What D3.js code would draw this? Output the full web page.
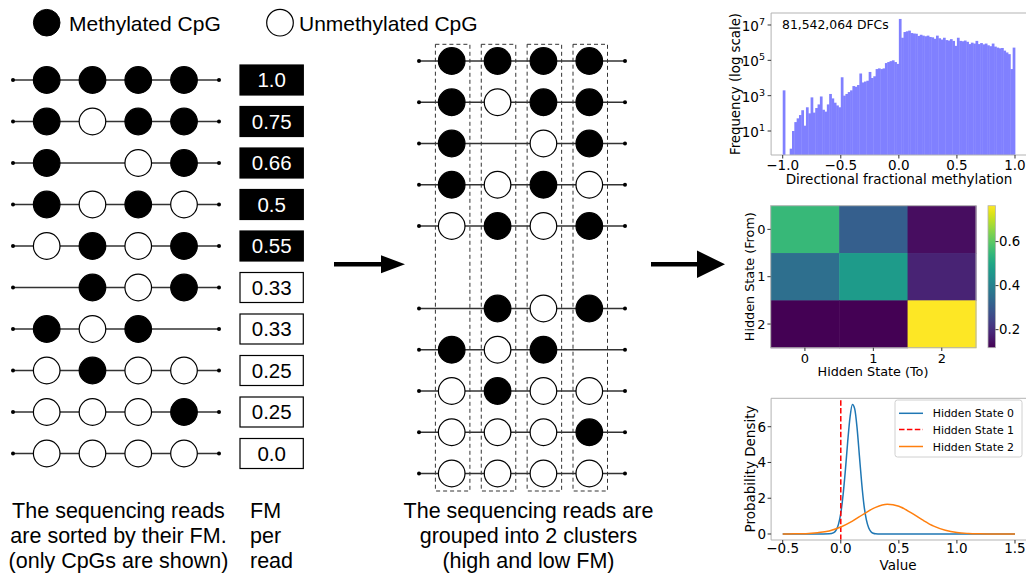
<!DOCTYPE html>
<html><head><meta charset="utf-8">
<script src="https://cdn.jsdelivr.net/npm/d3@7"></script>
<style>body{margin:0;background:#fff}svg{display:block}</style>
</head><body>
<svg id="c" width="1026" height="573"></svg>
<script>
// ---------------- data ----------------
const readsPattern = [
  [1,1,1,1],[1,0,1,1],[1,null,0,1],[1,0,1,0],[0,1,0,1],
  [null,1,0,1],[1,0,1,null],[0,1,0,0],[0,0,0,1],[0,0,0,0]
];
const fmLabels = ["1.0","0.75","0.66","0.5","0.55","0.33","0.33","0.25","0.25","0.0"];
const fmHigh = [true,true,true,true,true,false,false,false,false,false];
const clusterSlots = [0,1,2,3,4,6,7,8,9,10];
const leftCaption = ["The sequencing reads","are sorted by their FM.","(only CpGs are shown)"];
const fmCaption = ["FM","per","read"];
const midCaption = ["The sequencing reads are","grouped into 2 clusters","(high and low FM)"];
const legendLabels = ["Methylated CpG","Unmethylated CpG"];

const histBinStart = -1, histBinWidth = 0.02;
const histCounts = [
  2000,0,0,1,10,32,52,80,150,20,
  220,100,800,110,200,320,900,160,125,320,
  1250,700,400,280,220,11000,1000,1250,1600,2000,
  3500,3200,4000,18000,5600,6300,7000,22000,10000,12500,
  32000,35000,32000,35000,70000,80000,90000,100000,80000,63000,
  22000000,1900000,4000000,4400000,4800000,3500000,3300000,3200000,2400000,2800000,
  2500000,2300000,2500000,2100000,2000000,1660000,2500000,1780000,1500000,1900000,
  1400000,1320000,1580000,1260000,660000,1900000,1260000,1200000,1320000,1120000,
  830000,1000000,890000,1260000,830000,950000,800000,890000,710000,630000,
  890000,600000,525000,480000,500000,355000,280000,224000,32000,525000
];
const histXTicks = [-1,-0.5,0,0.5,1];
const histYTickExp = [1,3,5,7];
const histNote = "81,542,064 DFCs";

const transStates = ["0","1","2"];
const transMatrix = [[0.55,0.31,0.14],[0.35,0.47,0.18],[0.118,0.119,0.763]];
const cbTicks = [0.2,0.4,0.6];

const densX0 = [-0.5,-0.4,-0.3,-0.2,-0.1,-0.06,-0.04,-0.02,0,0.02,0.04,0.06,0.08,0.1,0.12,0.14,0.16,0.18,0.2,0.22,0.24,0.26,0.28,0.3,0.34,0.4,0.6,0.8,1.0,1.2,1.5];
const densY0 = [0,0,0,0,0.01,0.08,0.22,0.54,1.15,2.2,3.6,5.2,6.55,7.25,7.0,5.95,4.4,2.85,1.6,0.8,0.35,0.13,0.04,0.01,0,0,0,0,0,0,0];
const densX2 = [-0.5,-0.4,-0.3,-0.2,-0.1,0,0.1,0.2,0.3,0.4,0.5,0.6,0.7,0.8,0.9,1.0,1.1,1.2,1.3,1.4,1.5];
const densY2 = [0,0.01,0.02,0.07,0.17,0.39,0.72,1.13,1.49,1.66,1.55,1.21,0.8,0.44,0.21,0.08,0.03,0.01,0,0,0];
const hidden1X = 0.0;
const densXTicks = [-0.5,0,0.5,1,1.5];
const densYTicks = [0,2,4,6];
const densLegend = ["Hidden State 0","Hidden State 1","Hidden State 2"];
const densColors = ["#1f77b4","#ff0000","#ff7f0e"];

// ---------------- drawing ----------------
const svg = d3.select("#c");
svg.append("rect").attr("width",1026).attr("height",573).attr("fill","#fff");
const SANS = "'Liberation Sans', Arial, sans-serif";
const MPL = "'DejaVu Sans', sans-serif";
const SPINE = "#b3b3b3";

// legend
const lg = svg.append("g").attr("font-family",SANS).attr("font-size",21);
lg.append("circle").attr("cx",46.7).attr("cy",22.7).attr("r",13.3).attr("fill","#000").attr("stroke","#000");
lg.append("text").attr("x",69).attr("y",30.5).text(legendLabels[0]);
lg.append("circle").attr("cx",280).attr("cy",22.7).attr("r",13.3).attr("fill","#fff").attr("stroke","#000").attr("stroke-width",1.2);
lg.append("text").attr("x",299).attr("y",30.5).text(legendLabels[1]);

function drawRead(g, y, pattern, colX, x0, x1){
  g.append("line").attr("x1",x0).attr("x2",x1).attr("y1",y).attr("y2",y)
    .attr("stroke","#333").attr("stroke-width",1.3);
  [x0,x1].forEach(x=>g.append("circle").attr("cx",x).attr("cy",y).attr("r",2).attr("fill","#000"));
  pattern.forEach((p,j)=>{
    if(p===null) return;
    g.append("circle").attr("cx",colX(j)).attr("cy",y).attr("r",13.3)
      .attr("fill",p?"#000":"#fff").attr("stroke","#000").attr("stroke-width",1.2);
  });
}

// left reads
const colL = d3.scaleLinear().domain([0,3]).range([46.7,184]);
const rowL = d3.scaleLinear().domain([0,readsPattern.length-1]).range([80,453.5]);
const gl = svg.append("g");
readsPattern.forEach((p,i)=>drawRead(gl,rowL(i),p,colL,13,219));
// FM boxes
readsPattern.forEach((p,i)=>{
  const y=rowL(i);
  gl.append("rect").attr("x",240).attr("y",y-15).attr("width",63.3).attr("height",30)
    .attr("fill",fmHigh[i]?"#000":"#fff").attr("stroke","#000").attr("stroke-width",1.2);
  gl.append("text").attr("x",271.7).attr("y",y+7.4).attr("text-anchor","middle")
    .attr("font-family",SANS).attr("font-size",20.5).attr("fill",fmHigh[i]?"#fff":"#000").text(fmLabels[i]);
});
// captions
const capY=[518,543,568];
leftCaption.forEach((t,i)=>svg.append("text").attr("x",118.5).attr("y",capY[i]).attr("text-anchor","middle")
  .attr("font-family",SANS).attr("font-size",21.5).text(t));
fmCaption.forEach((t,i)=>svg.append("text").attr("x",250).attr("y",capY[i])
  .attr("font-family",SANS).attr("font-size",21.5).text(t));
midCaption.forEach((t,i)=>svg.append("text").attr("x",528.5).attr("y",capY[i]).attr("text-anchor","middle")
  .attr("font-family",SANS).attr("font-size",21.5).text(t));

// middle reads
const colM = d3.scaleLinear().domain([0,3]).range([451.7,589.3]);
const rowM = d3.scaleLinear().domain([0,10]).range([61,473.5]);
const gm = svg.append("g");
readsPattern.forEach((p,i)=>drawRead(gm,rowM(clusterSlots[i]),p,colM,419,625));
[0,1,2,3].forEach(j=>{
  gm.append("rect").attr("x",colM(j)-16.3).attr("y",44.3).attr("width",34.5).attr("height",446.7)
    .attr("fill","none").attr("stroke","#333").attr("stroke-width",1).attr("stroke-dasharray","4,3");
});

// arrows
svg.append("path").attr("d","M334,262 L381,262 L381,255.3 L405,264.3 L381,273.3 L381,266.6 L334,266.6 Z").attr("fill","#000");
svg.append("path").attr("d","M651,262 L697,262 L697,250.5 L725,264.3 L697,278 L697,266.6 L651,266.6 Z").attr("fill","#000");

// ---------- histogram ----------
const hx = d3.scaleLinear().domain([-1.1,1.1]).range([771.1,1026.6]);
const hy = d3.scaleLog().domain([Math.pow(10,-0.358),Math.pow(10,7.679)]).range([155,13]);
const gh = svg.append("g");
histCounts.forEach((c,i)=>{
  if(c<=0) return;
  const a=histBinStart+i*histBinWidth, b=a+histBinWidth;
  gh.append("rect").attr("x",hx(a)).attr("width",hx(b)-hx(a)+0.4)
    .attr("y",hy(c)).attr("height",155-hy(c)).attr("fill","#8080ff");
});
// spines
gh.append("line").attr("x1",771.1).attr("x2",1026).attr("y1",155).attr("y2",155).attr("stroke",SPINE);
gh.append("line").attr("x1",771.1).attr("x2",1026).attr("y1",13).attr("y2",13).attr("stroke",SPINE);
gh.append("line").attr("x1",771.1).attr("x2",771.1).attr("y1",13).attr("y2",155).attr("stroke",SPINE);
histXTicks.forEach(t=>{
  gh.append("line").attr("x1",hx(t)).attr("x2",hx(t)).attr("y1",155).attr("y2",158.5).attr("stroke","#333");
  gh.append("text").attr("x",hx(t)).attr("y",170).attr("text-anchor","middle").attr("font-family",MPL)
    .attr("font-size",13.5).text(d3.format(".1f")(t).replace("-","\u2212"));
});
histYTickExp.forEach(e=>{
  const y=hy(Math.pow(10,e));
  gh.append("line").attr("x1",767.6).attr("x2",771.1).attr("y1",y).attr("y2",y).attr("stroke","#333");
  const t=gh.append("text").attr("x",765).attr("y",y+6).attr("text-anchor","end").attr("font-family",MPL).attr("font-size",13.5);
  t.append("tspan").text("10");
  t.append("tspan").attr("dy",-6).attr("font-size",9.5).text(String(e));
});
gh.append("text").attr("transform","translate(740,84) rotate(-90)").attr("text-anchor","middle")
  .attr("font-family",MPL).attr("font-size",13.3).text("Frequency (log scale)");
gh.append("text").attr("x",899).attr("y",184).attr("text-anchor","middle")
  .attr("font-family",MPL).attr("font-size",13.5).text("Directional fractional methylation");
gh.append("text").attr("x",782).attr("y",28.5).attr("font-family",MPL).attr("font-size",12.4).text(histNote);

// ---------- heatmap ----------
const bx = d3.scaleBand().domain(transStates).range([770.7,976]);
const by = d3.scaleBand().domain(transStates).range([205.7,347.7]);
const ext = d3.extent(transMatrix.flat());
const col = d3.scaleSequential(d3.interpolateViridis).domain(ext);
const gt = svg.append("g");
transMatrix.forEach((row,i)=>row.forEach((v,j)=>{
  gt.append("rect").attr("x",bx(transStates[j])).attr("y",by(transStates[i]))
    .attr("width",bx.bandwidth()+0.5).attr("height",by.bandwidth()+0.5).attr("fill",col(v));
}));
gt.append("rect").attr("x",770.7).attr("y",205.7).attr("width",205.3).attr("height",142).attr("fill","none").attr("stroke",SPINE);
transStates.forEach(s=>{
  const xc=bx(s)+bx.bandwidth()/2, yc=by(s)+by.bandwidth()/2;
  gt.append("line").attr("x1",xc).attr("x2",xc).attr("y1",347.7).attr("y2",351).attr("stroke","#333");
  gt.append("text").attr("x",xc).attr("y",363).attr("text-anchor","middle").attr("font-family",MPL).attr("font-size",13).text(s);
  gt.append("line").attr("x1",767.4).attr("x2",770.7).attr("y1",yc).attr("y2",yc).attr("stroke","#333");
  gt.append("text").attr("x",765.5).attr("y",yc+4.7).attr("text-anchor","end").attr("font-family",MPL).attr("font-size",13).text(s);
});
gt.append("text").attr("x",873).attr("y",376).attr("text-anchor","middle").attr("font-family",MPL).attr("font-size",12.8).text("Hidden State (To)");
gt.append("text").attr("transform","translate(753.5,276.7) rotate(-90)").attr("text-anchor","middle")
  .attr("font-family",MPL).attr("font-size",12.8).text("Hidden State (From)");
// colorbar
const defs = svg.append("defs");
const grad = defs.append("linearGradient").attr("id","vir").attr("x1",0).attr("x2",0).attr("y1",1).attr("y2",0);
d3.range(0,1.0001,0.05).forEach(t=>grad.append("stop").attr("offset",t).attr("stop-color",d3.interpolateViridis(t)));
const cy = d3.scaleLinear().domain(ext).range([347.7,205.7]);
gt.append("rect").attr("x",988).attr("y",205.7).attr("width",7.5).attr("height",142).attr("fill","url(#vir)").attr("stroke",SPINE).attr("stroke-width",0.8);
cbTicks.forEach(t=>{
  gt.append("line").attr("x1",995.5).attr("x2",998.5).attr("y1",cy(t)).attr("y2",cy(t)).attr("stroke","#333");
  gt.append("text").attr("x",999).attr("y",cy(t)+4.8).attr("font-family",MPL).attr("font-size",13.3).text(t.toFixed(1));
});

// ---------- density ----------
const dx = d3.scaleLinear().domain([-0.6,1.6]).range([771.1,1026.6]);
const dy = d3.scaleLinear().domain([-0.336,7.59]).range([540,398.3]);
const gd = svg.append("g");
const line = d3.line().x(d=>dx(d[0])).y(d=>dy(d[1])).curve(d3.curveMonotoneX);
gd.append("path").attr("d",line(densX0.map((x,i)=>[x,densY0[i]]))).attr("fill","none").attr("stroke",densColors[0]).attr("stroke-width",1.5);
gd.append("line").attr("x1",dx(hidden1X)).attr("x2",dx(hidden1X)).attr("y1",540).attr("y2",398.3)
  .attr("stroke",densColors[1]).attr("stroke-width",1.5).attr("stroke-dasharray","5.5,2.4");
gd.append("path").attr("d",line(densX2.map((x,i)=>[x,densY2[i]]))).attr("fill","none").attr("stroke",densColors[2]).attr("stroke-width",1.5);
gd.append("line").attr("x1",771.1).attr("x2",1026).attr("y1",540).attr("y2",540).attr("stroke",SPINE);
gd.append("line").attr("x1",771.1).attr("x2",1026).attr("y1",398.3).attr("y2",398.3).attr("stroke",SPINE);
gd.append("line").attr("x1",771.1).attr("x2",771.1).attr("y1",398.3).attr("y2",540).attr("stroke",SPINE);
densXTicks.forEach(t=>{
  gd.append("line").attr("x1",dx(t)).attr("x2",dx(t)).attr("y1",540).attr("y2",543.5).attr("stroke","#333");
  gd.append("text").attr("x",dx(t)).attr("y",553.3).attr("text-anchor","middle").attr("font-family",MPL)
    .attr("font-size",13.5).text(d3.format(".1f")(t).replace("-","\u2212"));
});
densYTicks.forEach(t=>{
  gd.append("line").attr("x1",767.6).attr("x2",771.1).attr("y1",dy(t)).attr("y2",dy(t)).attr("stroke","#333");
  gd.append("text").attr("x",766).attr("y",dy(t)+4.9).attr("text-anchor","end").attr("font-family",MPL).attr("font-size",13.5).text(t);
});
gd.append("text").attr("x",898).attr("y",570).attr("text-anchor","middle").attr("font-family",MPL).attr("font-size",13.5).text("Value");
gd.append("text").attr("transform","translate(755,469) rotate(-90)").attr("text-anchor","middle")
  .attr("font-family",MPL).attr("font-size",13.5).text("Probability Density");
// legend
gd.append("rect").attr("x",895).attr("y",400).attr("width",127).attr("height",57).attr("rx",2.5)
  .attr("fill","#fff").attr("fill-opacity",0.85).attr("stroke","#d0d0d0");
const legY=[413.3,429.5,446.5];
densLegend.forEach((t,i)=>{
  const l=gd.append("line").attr("x1",899).attr("x2",923).attr("y1",legY[i]).attr("y2",legY[i]).attr("stroke",densColors[i]).attr("stroke-width",1.5);
  if(i===1) l.attr("stroke-dasharray","5.5,2.4");
  gd.append("text").attr("x",932.7).attr("y",legY[i]+4).attr("font-family",MPL).attr("font-size",10.9).text(t);
});
</script>
</body></html>
